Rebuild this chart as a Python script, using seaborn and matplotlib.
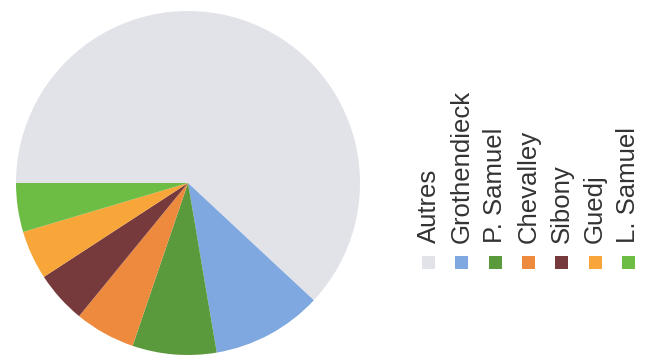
import matplotlib
matplotlib.use("Agg")
import matplotlib.pyplot as plt
from matplotlib.patches import Rectangle
import seaborn as sns

labels = ["Autres", "Grothendieck", "P. Samuel", "Chevalley", "Sibony", "Guedj", "L. Samuel"]
values = [62.0, 10.4, 7.9, 5.7, 4.9, 4.6, 4.6]
colors = ["#e1e3e8", "#7fa8e0", "#5b9a3c", "#ee8a3e", "#763a3c", "#f8a53a", "#6dbd45"]

sns.set_theme(style="white")
plt.rcParams["font.family"] = ["Liberation Sans", "DejaVu Sans"]

W, H = 653, 360
fig = plt.figure(figsize=(W / 100, H / 100), dpi=100)
fig.patch.set_facecolor("white")

cx, cy, r = 188, 183, 172
ax = fig.add_axes([(cx - r) / W, (H - cy - r) / H, 2 * r / W, 2 * r / H])
ax.pie(values, colors=sns.color_palette(colors), startangle=180, counterclock=False,
       radius=1, wedgeprops=dict(linewidth=0))
ax.set_xlim(-1, 1)
ax.set_ylim(-1, 1)
ax.set_aspect("equal")
ax.axis("off")

xs0, dx = 428.5, 33.3
text_bottom = 243
sq_center = 262
sq = 13
for i, (lab, col) in enumerate(zip(labels, colors)):
    x = xs0 + i * dx
    fig.text(x / W, (H - text_bottom) / H, lab, rotation=90, ha="center", va="bottom",
             fontsize=18.5, color="#333333")
    fig.patches.append(Rectangle(((x - sq / 2) / W, (H - sq_center - sq / 2) / H), sq / W, sq / H,
                                 transform=fig.transFigure, facecolor=col, edgecolor="none"))

fig.savefig("out.png", dpi=100)
